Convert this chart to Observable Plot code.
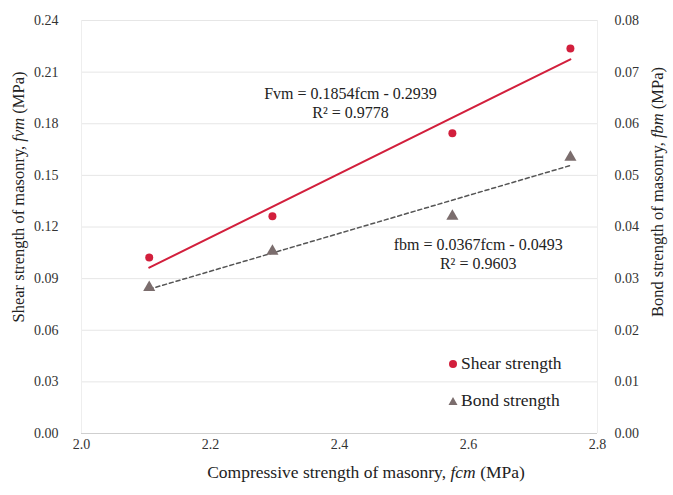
<!DOCTYPE html>
<html><head><meta charset="utf-8">
<script src="https://cdn.jsdelivr.net/npm/d3@7"></script>
<script src="https://cdn.jsdelivr.net/npm/@observablehq/plot@0.6"></script>
<style>
body{margin:0;background:#fff;}
#chart{position:relative;width:673px;height:495px;font-family:"Liberation Serif",serif;}
#legend{position:absolute;left:448px;top:345px;font-size:17.5px;color:#222;line-height:37px;}
#legend div{display:flex;align-items:center;}
#legend svg{margin-right:3px;}
</style>
</head><body><div id="chart"><div id="legend"></div></div>
<script>
// Data
const fcm = [2.105, 2.296, 2.575, 2.758];          // compressive strength (MPa)
const shear = [0.1023, 0.1262, 0.1745, 0.2238];    // fvm, left axis (MPa)
const bond = [0.0283, 0.0353, 0.0421, 0.0535];     // fbm, right axis (MPa)
const shearFit = [0.1854, -0.2939];                // slope, intercept
const bondFit = [0.0367, -0.0493];
const leftTicks = [0, 0.03, 0.06, 0.09, 0.12, 0.15, 0.18, 0.21, 0.24];
const rightTicks = [0, 0.01, 0.02, 0.03, 0.04, 0.05, 0.06, 0.07, 0.08];
const xTicks = [2.0, 2.2, 2.4, 2.6, 2.8];
const shearEq = ["Fvm = 0.1854fcm - 0.2939", "R² = 0.9778"];
const bondEq = ["fbm = 0.0367fcm - 0.0493", "R² = 0.9603"];
const legendLabels = ["Shear strength", "Bond strength"];

const RED = "#d21f3c", GREY = "#7b6d6d";
const k = 0.24 / 0.08; // right-axis to left-axis ratio

const pts = fcm.map((x, i) => ({x, shear: shear[i], bond: bond[i] * k}));
const xr = d3.extent(fcm);
const shearLine = xr.map(x => ({x, y: shearFit[0] * x + shearFit[1]}));
const bondLine = xr.map(x => ({x, y: (bondFit[0] * x + bondFit[1]) * k}));
// equation annotations anchored in data space
const eqs = [
  {x: 2.417, y: 0.1976, t: shearEq[0]}, {x: 2.417, y: 0.1862, t: shearEq[1]},
  {x: 2.615, y: 0.1098, t: bondEq[0]}, {x: 2.615, y: 0.0986, t: bondEq[1]}
];

const plot = Plot.plot({
  width: 673, height: 495,
  marginLeft: 81, marginRight: 76, marginTop: 20, marginBottom: 62,
  style: {fontFamily: "Liberation Serif, serif", fontSize: "14px", color: "#333", background: "#fff"},
  x: {domain: [2.0, 2.8]},
  y: {domain: [0, 0.24]},
  marks: [
    Plot.gridY(leftTicks, {stroke: "#e6e6e6", strokeOpacity: 1}),
    Plot.ruleX([2.0, 2.8], {stroke: "#eeeeee"}),
    Plot.ruleY([0], {stroke: "#cfcfcf"}),
    Plot.axisY(leftTicks, {tickSize: 0, tickPadding: 23, tickFormat: d3.format(".2f"), label: null, fontSize: 14}),
    Plot.axisY(rightTicks.map(v => v * k), {anchor: "right", tickSize: 0, tickPadding: 17, tickFormat: d => (d / k).toFixed(2), label: null, fontSize: 14}),
    Plot.axisX(xTicks, {tickSize: 0, tickPadding: 6, tickFormat: d3.format(".1f"), label: null, fontSize: 14}),
    Plot.line(bondLine, {x: "x", y: "y", stroke: "#555", strokeWidth: 1.5, strokeDasharray: "4,3"}),
    Plot.line(shearLine, {x: "x", y: "y", stroke: RED, strokeWidth: 2}),
    Plot.dot(pts, {x: "x", y: "bond", symbol: "triangle", r: 4.5, fill: GREY}),
    Plot.dot(pts, {x: "x", y: "shear", r: 4, fill: RED}),
    Plot.text(eqs, {x: "x", y: "y", text: "t", fontSize: 16, fill: "#222"})
  ]
});
document.getElementById("chart").prepend(plot);

// axis titles with italic symbols
const svg = d3.select(plot);
function title(x, y, rot, size, parts) {
  const t = svg.append("text").attr("transform", `translate(${x},${y}) rotate(${rot})`)
    .attr("text-anchor", "middle").attr("font-size", size).attr("fill", "#222");
  parts.forEach(([s, it]) => t.append("tspan").attr("font-style", it ? "italic" : null).text(s));
}
title(366, 478, 0, 17.5, [["Compressive strength of masonry, ", 0], ["fcm", 1], [" (MPa)", 0]]);
title(24, 197, -90, 16.5, [["Shear strength of masonry, ", 0], ["fvm", 1], [" (MPa)", 0]]);
title(663, 192, -90, 16.5, [["Bond strength of masonry, ", 0], ["fbm", 1], [" (MPa)", 0]]);

// legend
const lg = document.getElementById("legend");
legendLabels.forEach((lab, i) => {
  const row = document.createElement("div");
  const sym = i === 0
    ? `<svg width="10" height="10"><circle cx="5" cy="5" r="4" fill="${RED}"/></svg>`
    : `<svg width="10" height="10"><path d="M5,1L9.5,9H0.5Z" fill="${GREY}"/></svg>`;
  row.innerHTML = sym + `<span>${lab}</span>`;
  lg.appendChild(row);
});
</script></body></html>
